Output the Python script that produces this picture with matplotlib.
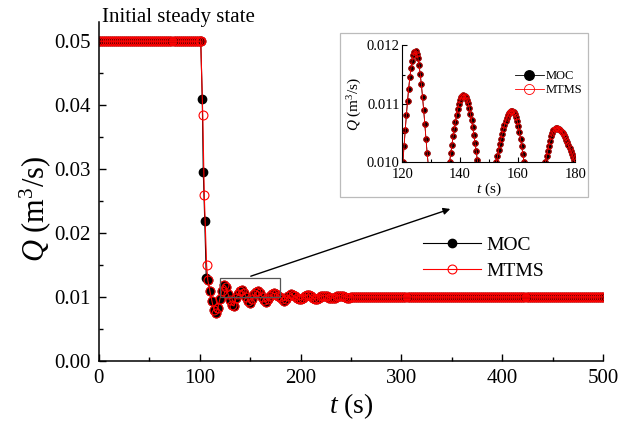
import numpy as np
import matplotlib
matplotlib.use('Agg')
import matplotlib.pyplot as plt
from matplotlib.patches import Rectangle
from matplotlib.ticker import MultipleLocator

plt.rcParams['font.family'] = 'Liberation Serif'
plt.rcParams['mathtext.fontset'] = 'custom'
plt.rcParams['mathtext.rm'] = 'Liberation Serif'
plt.rcParams['mathtext.it'] = 'Liberation Serif:italic'

# steady values before / after the valve closure
q_initial = 0.05
q_final = 0.01

# fast drop
t_drop_moc = [101, 102.5, 103.5, 105, 106.5]
q_drop_moc = [0.05, 0.0410, 0.0296, 0.0218, 0.0129]
t_drop_mtms = [101, 103, 104.5, 106.8]
q_drop_mtms = [0.05, 0.0384, 0.0259, 0.0150]

# damped oscillation, one value per second from t = 108 s to 250 s
t_osc_start = 108
q_osc = [
    0.0126, 0.0118, 0.0110, 0.0103, 0.0094, 0.0085, 0.0080, 0.0076, 0.0075, 0.0078,
    0.0083, 0.0089, 0.0097, 0.0104, 0.0110, 0.0115, 0.0119, 0.0119, 0.0116, 0.0111,
    0.0105, 0.0100, 0.0095, 0.0090, 0.0087, 0.0085, 0.0086, 0.0090, 0.0098, 0.0102,
    0.0105, 0.0108, 0.0110, 0.01113, 0.0111, 0.0109, 0.0106, 0.0103, 0.0100, 0.0097,
    0.0094, 0.0092, 0.0090, 0.0092, 0.0096, 0.0101, 0.0104, 0.0106, 0.0108, 0.01087,
    0.01088, 0.0108, 0.0106, 0.0103, 0.0100, 0.0097, 0.0095, 0.0093, 0.0092, 0.0093,
    0.0096, 0.0099, 0.0101, 0.0103, 0.0105, 0.01058, 0.01057, 0.0105, 0.0104, 0.0103,
    0.0102, 0.0101, 0.0100, 0.0098, 0.0096, 0.0094, 0.0094, 0.0095, 0.0097, 0.0099,
    0.0101, 0.0103, 0.01045, 0.0104, 0.0103, 0.0102, 0.0101, 0.0100, 0.0099, 0.0097,
    0.0096, 0.0096, 0.0096, 0.0097, 0.0098, 0.0099, 0.0101, 0.0102, 0.0103, 0.01035,
    0.0103, 0.0102, 0.0101, 0.0100, 0.0099, 0.0098, 0.0097, 0.0097, 0.0097, 0.0098,
    0.0099, 0.0100, 0.0101, 0.0102, 0.0102, 0.01025, 0.0102, 0.0102, 0.0101, 0.0100,
    0.0099, 0.0099, 0.0098, 0.0098, 0.0098, 0.0099, 0.0099, 0.0100, 0.0101, 0.0101,
    0.0102, 0.0102, 0.0102, 0.0101, 0.0101, 0.0100, 0.0100, 0.0099, 0.0099, 0.0099,
    0.0099, 0.0100, 0.0100,
]

# inset: finer samples (0.4 s) around the four peaks above 0.010
inset_dt = 0.4
t_peak_start = [119.8, 136.0, 152.2, 169.2]
q_peak1 = [0.00985, 0.01000, 0.01027, 0.01054, 0.01080, 0.01104, 0.01126, 0.01145,
           0.01161, 0.01174, 0.01184, 0.01189, 0.01190, 0.01186, 0.01178, 0.01166,
           0.01151, 0.01133, 0.01112, 0.01089, 0.01065, 0.01040, 0.01016, 0.00995,
           0.00975]
q_peak2 = [0.00985, 0.01000, 0.01015, 0.01029, 0.01044, 0.01057, 0.01069, 0.01081,
           0.01091, 0.01099, 0.01106, 0.01111, 0.01114, 0.01115, 0.01114, 0.01112,
           0.01107, 0.01101, 0.01093, 0.01083, 0.01072, 0.01060, 0.01047, 0.01033,
           0.01019, 0.01004, 0.00989]
q_peak3 = [0.00990, 0.01000, 0.01010, 0.01020, 0.01030, 0.01039, 0.01048, 0.01056,
           0.01063, 0.01070, 0.01075, 0.01080, 0.01084, 0.01086, 0.01088, 0.01088,
           0.01086, 0.01083, 0.01077, 0.01070, 0.01061, 0.01051, 0.01039, 0.01027,
           0.01013, 0.01000, 0.00987]
q_peak4 = [0.00990, 0.01000, 0.01010, 0.01019, 0.01028, 0.01036, 0.01044, 0.01049,
           0.01054, 0.01057, 0.01058, 0.01058, 0.01057, 0.01056, 0.01054, 0.01052,
           0.01049, 0.01046, 0.01042, 0.01038, 0.01034, 0.01029, 0.01024, 0.01019,
           0.01014, 0.01008, 0.01003, 0.00997]

t_osc = np.arange(t_osc_start, t_osc_start + len(q_osc))
t_pre = np.arange(0, 101, 2)
t_post = np.arange(252, 501, 2)
step = 2


def main_series(t_drop, q_drop):
    t = np.concatenate([t_pre, t_drop, t_osc[::step], t_post])
    q = np.concatenate([[q_initial] * len(t_pre), q_drop, np.array(q_osc)[::step],
                        [q_final] * len(t_post)])
    return t, q


t_moc, q_moc = main_series(t_drop_moc, q_drop_moc)
t_mtms, q_mtms = main_series(t_drop_mtms, q_drop_mtms)

t_in, q_in = [], []
for t0, qp in zip(t_peak_start, [q_peak1, q_peak2, q_peak3, q_peak4]):
    t_in.extend(t0 + inset_dt * np.arange(len(qp)))
    q_in.extend(qp)

fig = plt.figure(figsize=(6.18, 4.24), dpi=100)
ax = fig.add_axes([0.160, 0.149, 0.816, 0.799])

ax.plot(t_moc, q_moc, color='black', lw=0.8, marker='o', ms=6,
        mfc='black', mec='black', label='MOC')
ax.plot(t_mtms, q_mtms, color='red', lw=0.8, marker='o', ms=6.4,
        mfc='none', mec='red', mew=0.8, label='MTMS')

ax.set_xlim(0, 500)
ax.set_ylim(0, 0.053)
ax.set_xticks([0, 100, 200, 300, 400, 500])
ax.set_yticks([0.00, 0.01, 0.02, 0.03, 0.04, 0.05])
ax.set_yticklabels(['0.00', '0.01', '0.02', '0.03', '0.04', '0.05'])
ax.xaxis.set_minor_locator(MultipleLocator(50))
ax.yaxis.set_minor_locator(MultipleLocator(0.005))
ax.tick_params(which='both', direction='in', labelsize=15, width=1, pad=6)
ax.tick_params(which='major', length=5)
ax.tick_params(which='minor', length=3)
for s in ['top', 'right']:
    ax.spines[s].set_visible(False)
for s in ['left', 'bottom']:
    ax.spines[s].set_linewidth(1.1)

ax.set_xlabel(r'$t$ (s)', fontsize=20, labelpad=2)
ax.set_ylabel(r'$Q$ (m$^3$/s)', fontsize=22)
ax.yaxis.set_label_coords(-0.09, 0.45)

ax.text(3, 0.0537, 'Initial steady state', fontsize=15, va='center')

ax.legend(loc='upper left', bbox_to_anchor=(0.684, 0.443), bbox_transform=fig.transFigure,
          frameon=False, fontsize=14, handlelength=3.0, handletextpad=0.3,
          labelspacing=0.45, borderpad=0, borderaxespad=0)

# zoom box and arrow
ax.add_patch(Rectangle((120, 0.010), 60, 0.003, fill=False, ec='#555555', lw=0.9, zorder=5))
ax.annotate('', xy=(351, 0.0239), xytext=(148, 0.0131),
            arrowprops=dict(arrowstyle='-|>', color='black', lw=1, mutation_scale=10))

# inset frame
fig.patches.append(Rectangle((0.550, 0.535), 0.401, 0.387, transform=fig.transFigure,
                             fill=True, fc='white', ec='#bbbbbb', lw=0.9, zorder=3))

axin = fig.add_axes([0.651, 0.618, 0.280, 0.275])
axin.set_zorder(4)
axin.plot(t_in, q_in, color='black', lw=0.6, marker='o', ms=3.6,
          mfc='black', mec='black', label='MOC')
axin.plot(t_in, q_in, color='red', lw=0.6, marker='o', ms=3.8,
          mfc='none', mec='red', mew=0.6, label='MTMS')
axin.set_xlim(120, 180)
axin.set_ylim(0.010, 0.012)
axin.set_xticks([120, 140, 160, 180])
axin.set_yticks([0.010, 0.011, 0.012])
axin.set_yticklabels(['0.010', '0.011', '0.012'])
axin.xaxis.set_minor_locator(MultipleLocator(10))
axin.yaxis.set_minor_locator(MultipleLocator(0.0005))
axin.tick_params(which='both', direction='in', labelsize=10.5, width=0.8)
axin.tick_params(axis='x', pad=4)
axin.tick_params(axis='y', pad=2)
axin.tick_params(which='major', length=3.5)
axin.tick_params(which='minor', length=2)
for s in ['top', 'right']:
    axin.spines[s].set_visible(False)
axin.set_xlabel(r'$t$ (s)', fontsize=11, labelpad=0)
axin.set_ylabel(r'$Q$ (m$^3$/s)', fontsize=11, labelpad=2)
axin.legend(loc='upper left', bbox_to_anchor=(0.833, 0.834), bbox_transform=fig.transFigure,
            frameon=False, fontsize=9, handlelength=2.3, handletextpad=0.2,
            labelspacing=0.15, borderpad=0, borderaxespad=0, markerscale=1.9)

fig.savefig('out.png', dpi=100)
